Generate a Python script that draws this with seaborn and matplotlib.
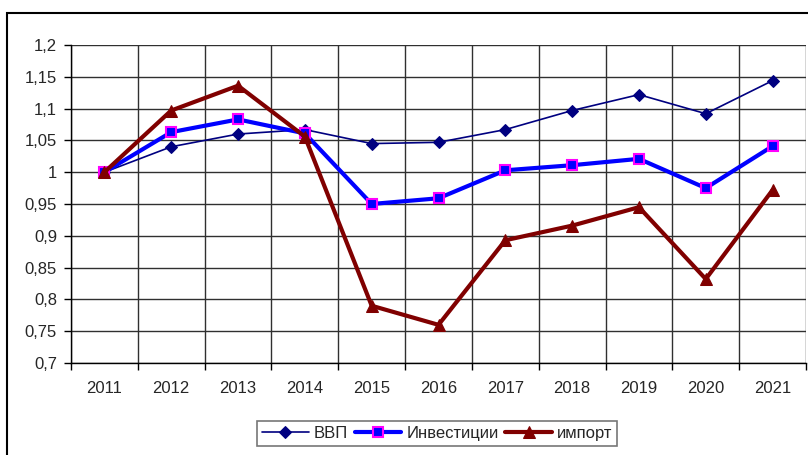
import pandas as pd
import seaborn as sns
import numpy as np
import matplotlib.pyplot as plt
from matplotlib.patches import Rectangle
from matplotlib.ticker import FixedLocator, FuncFormatter

years = ['2011', '2012', '2013', '2014', '2015', '2016', '2017', '2018', '2019', '2020', '2021']
vvp = [1.0, 1.040, 1.060, 1.067, 1.045, 1.047, 1.067, 1.097, 1.122, 1.092, 1.144]
invest = [1.0, 1.063, 1.083, 1.061, 0.950, 0.959, 1.003, 1.011, 1.021, 0.975, 1.041]
imports = [1.0, 1.097, 1.136, 1.056, 0.790, 0.760, 0.893, 0.916, 0.945, 0.832, 0.972]
y_ticks = [0.7, 0.75, 0.8, 0.85, 0.9, 0.95, 1.0, 1.05, 1.1, 1.15, 1.2]

sns.set_style('white')
plt.rcParams['font.family'] = ['Liberation Sans', 'DejaVu Sans']

df = pd.DataFrame({'pos': np.arange(len(years)), 'ВВП': vvp,
                   'Инвестиции': invest, 'импорт': imports})

fig = plt.figure(figsize=(8.08, 4.55), dpi=100)
ax = fig.add_axes([71/808, 1 - 363/455, (806 - 71)/808, (363 - 45)/455])

sns.lineplot(data=df, x='pos', y='ВВП', ax=ax, color='#000080', lw=1.2,
             marker='D', markersize=6, markeredgecolor='#000080', label='ВВП')
sns.lineplot(data=df, x='pos', y='Инвестиции', ax=ax, color='#0000FF', lw=3,
             marker='s', markersize=6.5, markerfacecolor='#0000FF',
             markeredgecolor='#FF00FF', markeredgewidth=1.5, label='Инвестиции')
sns.lineplot(data=df, x='pos', y='импорт', ax=ax, color='#800000', lw=3,
             marker='^', markersize=9, markeredgecolor='#800000', label='импорт')

ax.set_xlim(-0.5, len(years) - 0.5)
ax.set_ylim(0.7, 1.2)
ax.set_xlabel('')
ax.set_ylabel('')

ax.set_xticks(np.arange(len(years)))
ax.set_xticklabels(years)
ax.xaxis.set_minor_locator(FixedLocator(np.arange(len(years) + 1) - 0.5))
ax.set_yticks(y_ticks)
ax.yaxis.set_major_formatter(FuncFormatter(lambda v, p: f'{round(v, 2):g}'.replace('.', ',')))

ax.tick_params(axis='x', which='major', length=0, pad=13, labelsize=12)
ax.tick_params(axis='x', which='minor', length=5, width=1, color='black', direction='out', bottom=True)
ax.tick_params(axis='y', which='major', length=5, width=1, color='black', direction='out', left=True,
               pad=5, labelsize=12)

ax.grid(True, axis='y', which='major', color='#303030', lw=1)
ax.grid(True, axis='x', which='minor', color='#303030', lw=1)
ax.set_axisbelow(True)

for side in ['top', 'right']:
    ax.spines[side].set_visible(False)
for side in ['left', 'bottom']:
    ax.spines[side].set_color('black')
    ax.spines[side].set_linewidth(1)

leg = ax.legend(loc='upper center', bbox_to_anchor=(0.541, 1 - 421/455),
                bbox_transform=fig.transFigure, ncol=3, frameon=True, fancybox=False,
                fontsize=12, handlelength=2.8, handletextpad=0.3, columnspacing=0.4,
                borderpad=0.3, borderaxespad=0)
leg.get_frame().set_edgecolor('#555555')
leg.get_frame().set_linewidth(1.2)

# chart area border
fig.patches.append(Rectangle((7/808, -0.1), 1.1, 1 - 13/455 + 0.1, transform=fig.transFigure,
                             fill=False, edgecolor='black', lw=1.5, zorder=0))

fig.savefig('out.png', dpi=100)
